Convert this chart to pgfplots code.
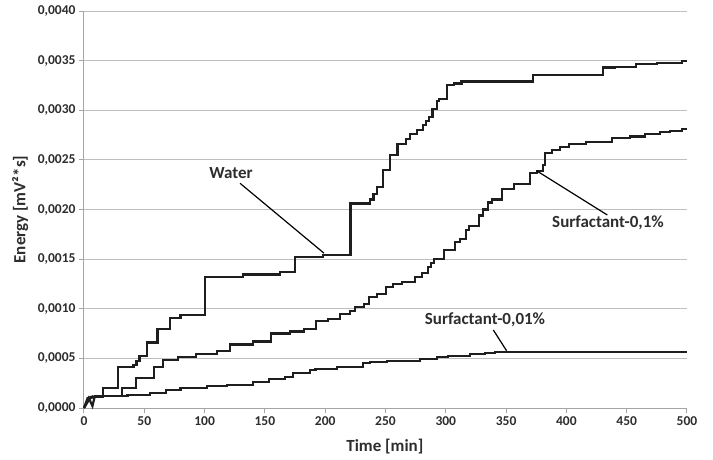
\documentclass[border=0pt]{standalone}
\usepackage{fontspec}
\setmainfont{Carlito}
\usepackage{pgfplots}
\pgfplotsset{compat=1.18}
\definecolor{gridc}{RGB}{190,190,190}
\definecolor{axc}{RGB}{165,165,165}
\definecolor{curve}{RGB}{30,30,30}
\definecolor{txt}{RGB}{45,45,45}
\begin{document}
\begin{tikzpicture}
\useasboundingbox (-84pt,-51pt) rectangle (629pt,408pt);
\begin{axis}[
  at={(0,0)}, anchor=south west,
  width=603pt, height=397pt, scale only axis,
  xmin=0, xmax=500, ymin=0, ymax=0.004,
  axis lines=left, axis line style={-, axc, line width=1pt},
  xtick={0,50,100,150,200,250,300,350,400,450,500},
  ytick={0,0.0005,0.001,0.0015,0.002,0.0025,0.003,0.0035,0.004},
  scaled y ticks=false,
  yticklabel style={/pgf/number format/.cd, fixed, fixed zerofill, precision=4, use comma},
  /pgf/number format/assume math mode=true,
  ticklabel style={font=\bfseries\fontsize{13.5}{15}\selectfont, text=txt},
  ymajorgrids, grid style={gridc, line width=1pt},
  tick style={axc, line width=1pt}, tick align=outside, major tick length=5pt,
  xlabel={Time [min]}, ylabel={Energy [mV²*s]},
  label style={font=\bfseries\fontsize{17}{19}\selectfont, text=txt},
  xlabel style={at={(axis description cs:0.499,-0.098)}, anchor=center},
  ylabel style={at={(axis description cs:-0.106,0.5)}, anchor=center, rotate=0},
  clip=false,
]
% Water
\addplot[curve, line width=2.2pt] coordinates {(0,0) (5,0.0001) (9,0.00011)};
\addplot[curve, line width=2.2pt, const plot, line join=miter] coordinates {
(9,0.00011) (16,0.0002) (28.5,0.00041) (41,0.00043) (43.5,0.00047) (46,0.00052)
(52.5,0.00066) (61,0.0008) (71,0.00091) (80,0.00094) (100.5,0.00132) (132,0.001345)
(162.5,0.00137) (175,0.001525) (198.5,0.00154) (221,0.00206) (237,0.0021) (240,0.00216)
(242.7,0.00223) (248,0.0024) (253.7,0.00255) (260,0.00266) (267,0.00271) (270,0.00276)
(276,0.0028) (281,0.00285) (283.5,0.00289) (286,0.00293) (289,0.00301) (292.4,0.00309)
(294.5,0.00311) (300.7,0.003255) (306.8,0.00327) (313,0.00329) (372.5,0.003355)
(430.6,0.00343) (440,0.003435) (457.7,0.003464) (475.4,0.00348) (495.6,0.0035) (500,0.0035)};
% Surfactant-0,1%
\addplot[curve, line width=2.2pt] coordinates {(0,0) (3,0.0001) (8,0.00012)};
\addplot[curve, line width=2.2pt, const plot, line join=miter] coordinates {
(8,0.00012) (31.8,0.0002) (42.8,0.0003) (58,0.00041) (65.5,0.00048) (78,0.00051)
(92.6,0.000544) (110.5,0.000574) (120.8,0.00064) (140.4,0.00067) (154.8,0.00075)
(170.8,0.00077) (182.4,0.0008) (192.3,0.00088) (202.6,0.0009) (212.3,0.00095)
(220.6,0.00098) (224.7,0.00102) (232,0.00105) (236.6,0.00112) (242.7,0.00115)
(250.4,0.00122) (256.5,0.00125) (263.4,0.00127) (274.5,0.00132) (280,0.00136)
(285.5,0.00142) (287.5,0.00146) (290.2,0.0015) (298.5,0.00159) (307.6,0.00167)
(311.8,0.0017) (316.7,0.00179) (319.5,0.00183) (327.5,0.00194) (331,0.002)
(335,0.00207) (338.5,0.0021) (346.3,0.00221) (356.5,0.00226) (369.8,0.00237)
(375.4,0.00239) (380.3,0.00245) (382.3,0.00257) (387.8,0.0026) (394.7,0.002626)
(402.4,0.00266) (416.3,0.00268) (437.6,0.00272) (452.7,0.002735) (465.2,0.00276)
(477.6,0.00278) (485.9,0.00279) (495.6,0.00281) (500,0.00281)};
% Surfactant-0,01%
\addplot[curve, line width=2.2pt] coordinates {(0,0) (4,0.0001) (7,0.00002) (9,0.00012)};
\addplot[curve, line width=2.2pt, const plot, line join=miter] coordinates {
(9,0.00012) (36,0.00013) (55,0.000155) (68,0.00018) (80,0.0002) (102,0.00022)
(118.8,0.00023) (140.4,0.000265) (153.7,0.00029) (166.7,0.00031) (173.5,0.00035)
(187.4,0.00038) (192,0.00039) (209.5,0.000416) (231.6,0.00045) (237,0.00046)
(251,0.000474) (278.6,0.00049) (292.4,0.00051) (302,0.000527) (320,0.000544)
(332.5,0.000557) (340.8,0.000564) (500,0.000564)};
% annotations
\draw[black, line width=1.2pt] (axis cs:129.4,0.002264) -- (axis cs:199,0.00156);
\draw[black, line width=1.2pt] (axis cs:375.3,0.00239) -- (axis cs:433.9,0.001945);
\draw[black, line width=1.2pt] (axis cs:339.4,0.000786) -- (axis cs:350.4,0.000577);
\node[font=\bfseries\fontsize{17}{19}\selectfont, text=txt] at (axis cs:121.9,0.002368) {Water};
\node[font=\bfseries\fontsize{17}{19}\selectfont, text=txt] at (axis cs:434.5,0.001864) {Surfactant-0,1\%};
\node[font=\bfseries\fontsize{17}{19}\selectfont, text=txt] at (axis cs:332.5,0.000887) {Surfactant-0,01\%};
\end{axis}
\end{tikzpicture}
\end{document}
